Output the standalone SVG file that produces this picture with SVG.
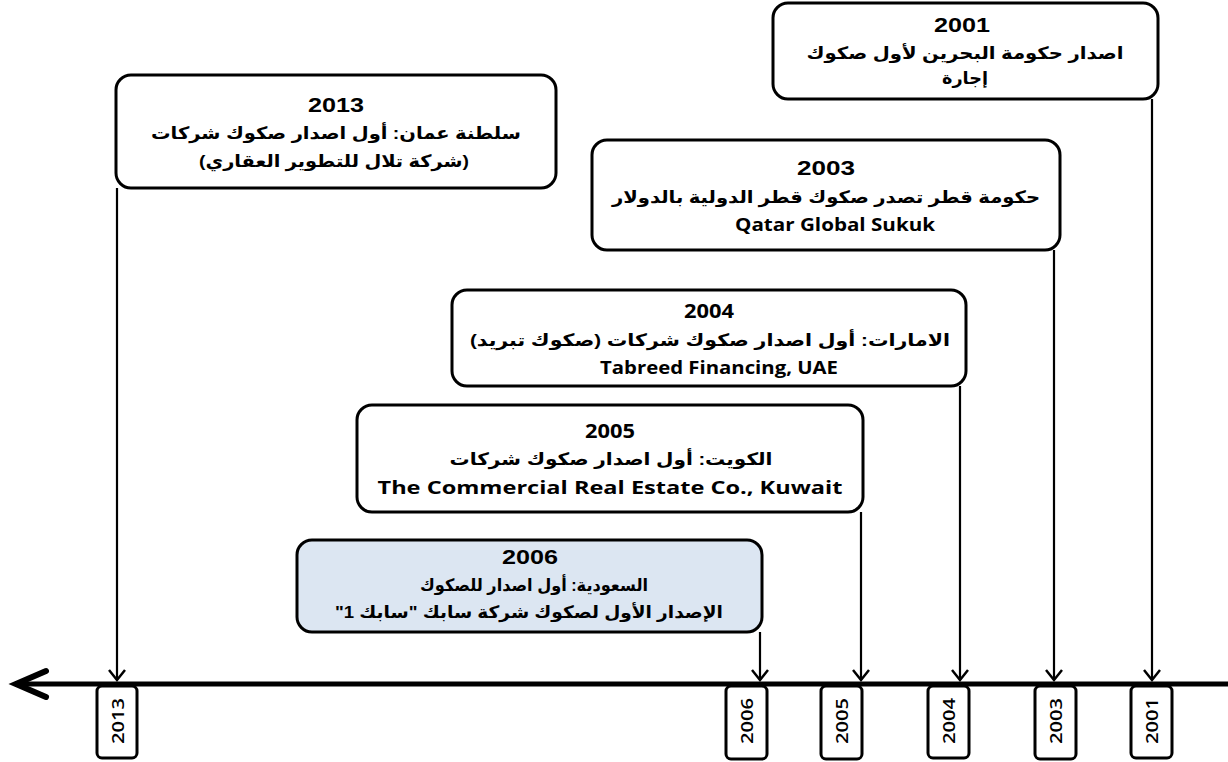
<svg xmlns="http://www.w3.org/2000/svg" width="1228" height="762" viewBox="0 0 1228 762">
<style>
.box{fill:#fff;stroke:#000;stroke-width:3}
.box.hl{fill:#dce6f2}
.tab{fill:#fff;stroke:#000;stroke-width:3}
.yr{font-family:'Liberation Sans',Arial,sans-serif;font-weight:bold;font-size:20px;text-anchor:middle;fill:#000}
.yc{font-family:'Open Sans',sans-serif;font-weight:bold;font-size:19px;text-anchor:middle;fill:#000}
.ar{font-family:'Liberation Sans','DejaVu Sans',sans-serif;font-weight:bold;font-size:17px;text-anchor:middle;fill:#000;direction:rtl;unicode-bidi:embed}
.la{font-family:'Open Sans',Lato,sans-serif;font-weight:bold;font-size:18px;text-anchor:middle;fill:#000}
.tt{font-family:'Open Sans',Lato,sans-serif;font-weight:600;font-size:17px;text-anchor:middle;fill:#000}
.con{fill:none;stroke:#000;stroke-width:2.2}
.axis{fill:none;stroke:#000;stroke-width:5}
</style>
<defs>
<marker id="arr" markerUnits="userSpaceOnUse" markerWidth="24" markerHeight="24" viewBox="-12 -12 24 24" refX="0" refY="0" orient="auto">
<path d="M-10,-8 L0,0 L-10,8" fill="none" stroke="#000" stroke-width="2.5" stroke-linejoin="miter"/>
</marker>
<marker id="big" markerUnits="userSpaceOnUse" markerWidth="50" markerHeight="50" viewBox="-40 -25 50 50" refX="0" refY="0" orient="auto">
<path d="M-30,-13 L0,0 L-30,13" fill="none" stroke="#000" stroke-width="6" stroke-linecap="round" stroke-linejoin="miter"/>
</marker>
</defs>

<g id="connectors">
<line class="axis" x1="1228" y1="684" x2="16" y2="684" marker-end="url(#big)"/>
<line class="con" x1="117" y1="188" x2="117" y2="680" marker-end="url(#arr)"/>
<line class="con" x1="1152" y1="99" x2="1152" y2="680" marker-end="url(#arr)"/>
<line class="con" x1="1054" y1="250" x2="1054" y2="680" marker-end="url(#arr)"/>
<line class="con" x1="960" y1="386" x2="960" y2="680" marker-end="url(#arr)"/>
<line class="con" x1="861" y1="512" x2="861" y2="680" marker-end="url(#arr)"/>
<line class="con" x1="760" y1="632" x2="760" y2="680" marker-end="url(#arr)"/>
</g>

<g id="node-2001">
<rect class="box" x="773" y="3" width="385" height="96" rx="15"/>
<text class="yr" x="962" y="32" textLength="56" lengthAdjust="spacingAndGlyphs">2001</text>
<text class="ar" x="965" y="59" textLength="317" lengthAdjust="spacingAndGlyphs">اصدار حكومة البحرين لأول صكوك</text>
<text class="ar" x="965" y="84" textLength="46" lengthAdjust="spacingAndGlyphs">إجارة</text>
</g>

<g id="node-2013">
<rect class="box" x="116" y="75" width="440" height="113" rx="15"/>
<text class="yr" x="336" y="112" textLength="56" lengthAdjust="spacingAndGlyphs">2013</text>
<text class="ar" x="336" y="139" textLength="370" lengthAdjust="spacingAndGlyphs">سلطنة عمان: أول اصدار صكوك شركات</text>
<text class="ar" x="334" y="167" textLength="270" lengthAdjust="spacingAndGlyphs">(شركة تلال للتطوير العقاري)</text>
</g>

<g id="node-2003">
<rect class="box" x="592" y="140" width="468" height="110" rx="15"/>
<text class="yr" x="826" y="175" textLength="58" lengthAdjust="spacingAndGlyphs">2003</text>
<text class="ar" x="826" y="203" textLength="428" lengthAdjust="spacingAndGlyphs">حكومة قطر تصدر صكوك قطر الدولية بالدولار</text>
<text class="la" x="835" y="231" textLength="200" lengthAdjust="spacingAndGlyphs">Qatar Global Sukuk</text>
</g>

<g id="node-2004">
<rect class="box" x="452" y="290" width="514" height="96" rx="15"/>
<text class="yc" x="709" y="318" textLength="50" lengthAdjust="spacingAndGlyphs">2004</text>
<text class="ar" x="710" y="346" textLength="480" lengthAdjust="spacingAndGlyphs">الامارات: أول اصدار صكوك شركات (صكوك تبريد)</text>
<text class="la" x="719" y="374" textLength="238" lengthAdjust="spacingAndGlyphs">Tabreed Financing, UAE</text>
</g>

<g id="node-2005">
<rect class="box" x="357" y="405" width="506" height="107" rx="15"/>
<text class="yc" x="610" y="438" textLength="50" lengthAdjust="spacingAndGlyphs">2005</text>
<text class="ar" x="611" y="465" textLength="323" lengthAdjust="spacingAndGlyphs">الكويت: أول اصدار صكوك شركات</text>
<text class="la" x="610" y="494" textLength="465" lengthAdjust="spacingAndGlyphs">The Commercial Real Estate Co., Kuwait</text>
</g>

<g id="node-2006">
<rect class="box hl" x="297" y="540" width="465" height="92" rx="15"/>
<text class="yr" x="530" y="564" textLength="56" lengthAdjust="spacingAndGlyphs">2006</text>
<text class="ar" x="534" y="591" textLength="228" lengthAdjust="spacingAndGlyphs">السعودية: أول اصدار للصكوك</text>
<text class="ar" x="529" y="618" textLength="388" lengthAdjust="spacingAndGlyphs">الإصدار الأول لصكوك شركة سابك "سابك 1"</text>
</g>

<g id="tab-2013">
<rect class="tab" x="97" y="686" width="40" height="72" rx="5"/>
<text class="tt" transform="translate(124,721) rotate(-90)" textLength="46" lengthAdjust="spacingAndGlyphs">2013</text>
</g>
<g id="tab-2006">
<rect class="tab" x="726" y="686" width="41" height="73" rx="5"/>
<text class="tt" transform="translate(753,721) rotate(-90)" textLength="46" lengthAdjust="spacingAndGlyphs">2006</text>
</g>
<g id="tab-2005">
<rect class="tab" x="821" y="686" width="41" height="73" rx="5"/>
<text class="tt" transform="translate(848,721) rotate(-90)" textLength="46" lengthAdjust="spacingAndGlyphs">2005</text>
</g>
<g id="tab-2004">
<rect class="tab" x="928" y="686" width="41" height="72" rx="5"/>
<text class="tt" transform="translate(955,721) rotate(-90)" textLength="46" lengthAdjust="spacingAndGlyphs">2004</text>
</g>
<g id="tab-2003">
<rect class="tab" x="1035" y="686" width="41" height="73" rx="5"/>
<text class="tt" transform="translate(1062,721) rotate(-90)" textLength="46" lengthAdjust="spacingAndGlyphs">2003</text>
</g>
<g id="tab-2001">
<rect class="tab" x="1131" y="686" width="41" height="72" rx="5"/>
<text class="tt" transform="translate(1158,721) rotate(-90)" textLength="46" lengthAdjust="spacingAndGlyphs">2001</text>
</g>
</svg>
